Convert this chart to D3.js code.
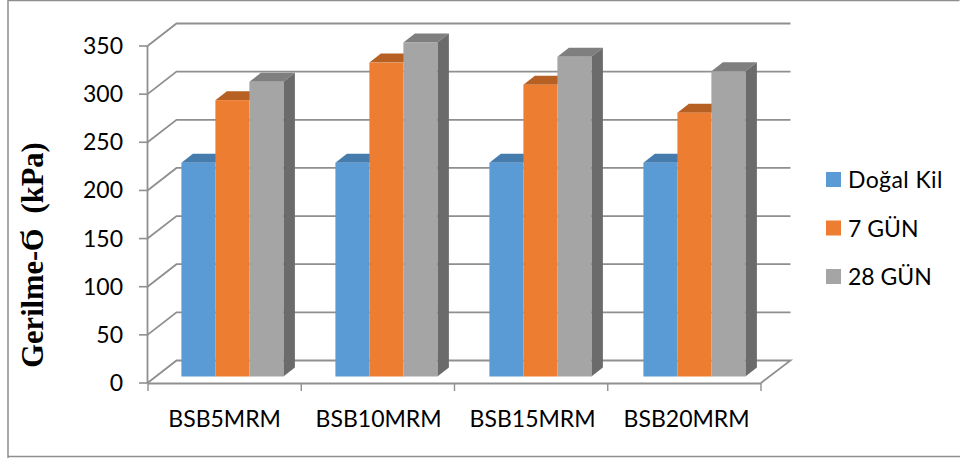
<!DOCTYPE html>
<html><head><meta charset="utf-8">
<script src="https://cdn.jsdelivr.net/npm/d3@7"></script>
<style>html,body{margin:0;padding:0;background:#fff}svg{display:block}</style>
</head><body><svg id="c" width="960" height="458"></svg>
<script>
const categories = ["BSB5MRM","BSB10MRM","BSB15MRM","BSB20MRM"];
const seriesNames = ["Doğal Kil","7 GÜN","28 GÜN"];
const dogalKil = [222,222,222,222];
const gun7 = [287,326,303,274];
const gun28 = [306,347,332,317];
const yTicks = [0,50,100,150,200,250,300,350];
const axisTitle = "Gerilme-Ϭ\u00a0 (kPa)";
const seriesValues = [dogalKil,gun7,gun28];
const front = ["#5b9bd5","#ed7d31","#a5a5a5"];
const topC = ["#467bad","#b66024","#7f7f7f"];
const sideC = ["#3d6d99","#a0541f","#6b6b6b"];

const svg = d3.select("#c");
svg.append("path").attr("d","M8,458V0.5H959.5M8,456.5H960").attr("fill","none").attr("stroke","#8e8e8e").attr("stroke-width",1.5);

const depthX=29, depthY=22.5, gridC="#8f8f8f";
const x = d3.scaleBand().domain(categories).range([148,761]);
const xBars = d3.scaleBand().domain(categories).range([148,764]);
const y = d3.scaleLinear().domain([0,350]).range([383,46]);
const inner = d3.scaleBand().domain(d3.range(3)).range([25,127]);
const g = svg.append("g");
yTicks.forEach(t=>{
  const p=y(t);
  if(t>0){
    g.append("polyline").attr("points",`${147.5},${p} ${147.5+depthX},${p-depthY} ${761+depthX+.5},${p-depthY}`)
     .attr("fill","none").attr("stroke",gridC).attr("stroke-width",1.8);
  }
  g.append("line").attr("x1",139).attr("x2",147.5).attr("y1",p).attr("y2",p).attr("stroke",gridC).attr("stroke-width",1.6);
  g.append("text").attr("x",123).attr("y",p+8).attr("text-anchor","end").attr("font-family","Lato").attr("font-size",23).attr("fill","#000").text(t);
});
g.append("polyline").attr("points",`147.5,383 ${147.5+depthX},${383-depthY} ${761+depthX+.5},${383-depthY} 761,383`).attr("fill","none").attr("stroke",gridC).attr("stroke-width",1.8);
g.append("line").attr("x1",147.5).attr("x2",147.5).attr("y1",46).attr("y2",383).attr("stroke",gridC).attr("stroke-width",1.8);
g.append("line").attr("x1",147.5).attr("x2",761).attr("y1",383.5).attr("y2",383.5).attr("stroke",gridC).attr("stroke-width",1.8);
x.domain().forEach(c=>{g.append("line").attr("x1",x(c)).attr("x2",x(c)).attr("y1",383).attr("y2",391).attr("stroke",gridC).attr("stroke-width",1.4);});
g.append("line").attr("x1",761).attr("x2",761).attr("y1",383).attr("y2",391).attr("stroke",gridC).attr("stroke-width",1.4);

const barDX=8.4, barDY=6.5, sideDX=11.5, sideDY=9;
const h = v => y(0)-y(v);
categories.forEach((c,i)=>{
  seriesValues.forEach((vals,s)=>{
    const bw=inner.bandwidth(), x0=xBars(c)+inner(s)+barDX, yb=383-barDY, yt=yb-h(vals[i]);
    g.append("path").attr("d",`M${x0},${yt}l${sideDX},${-sideDY}h${bw}l${-sideDX},${sideDY}z`).attr("fill",topC[s]);
    if(s===2) g.append("path").attr("d",`M${x0+bw},${yt}l${sideDX},${-sideDY}V${yb-sideDY}l${-sideDX},${sideDY}z`).attr("fill",sideC[s]);
    g.append("rect").attr("x",x0).attr("y",yt).attr("width",bw).attr("height",yb-yt).attr("fill",front[s]);
  });
  g.append("text").attr("x",xBars(c)+x.bandwidth()/2).attr("y",427).attr("text-anchor","middle").attr("font-family","Lato").attr("font-size",23).attr("fill","#000").text(c);
});

seriesNames.forEach((n,i)=>{
  const ly=180+i*48.5;
  svg.append("rect").attr("x",826).attr("y",ly-8).attr("width",15).attr("height",15).attr("fill",front[i]);
  svg.append("text").attr("x",848).attr("y",ly+8).attr("font-family","Lato").attr("font-size",23).attr("letter-spacing",i===0?0.4:0).attr("fill","#000").text(n);
});
svg.append("text").attr("transform","translate(43,255) rotate(-90)").attr("text-anchor","middle")
  .attr("font-family","Liberation Serif").attr("font-weight","bold").attr("font-size",30.5).attr("fill","#000").text(axisTitle);
</script></body></html>
